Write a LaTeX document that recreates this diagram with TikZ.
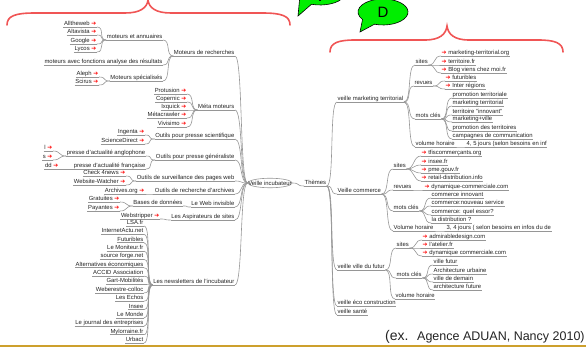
\documentclass[tikz,border=0pt]{standalone}
\usepackage{fontspec}
\setmainfont{Liberation Sans}
\newfontfamily\arrowfont{DejaVu Sans}
\usetikzlibrary{shapes.geometric}
\definecolor{bracered}{RGB}{240,85,85}
\definecolor{bubblegreen}{RGB}{0,238,0}
\definecolor{linkgray}{RGB}{150,150,150}
\definecolor{textgray}{RGB}{35,35,35}
\definecolor{footgold}{RGB}{205,160,45}
\newcommand{\linkarrow}{{\arrowfont\textcolor{red}{➔}}}
\tikzset{
    %Define standard look of the map
    >=stealth,
    leaf/.style={
      inner sep=0.5pt,
      text height=4.3pt, text depth=0.9pt,
      font=\fontsize{5.9}{6.5}\selectfont,
      text=textgray,
      append after command={(\tikzlastnode.south west) edge [uline] (\tikzlastnode.south east)}},
    lnode/.style={leaf, anchor=south east},
    rnode/.style={leaf, anchor=south west},
    uline/.style={draw=linkgray, line width=0.6pt},
    link/.style={
      draw=linkgray, line width=0.6pt,
      to path={.. controls +(8,0) and +(-8,0) .. (\tikztotarget)}},
    root/.style={
      ellipse,
      draw=linkgray, line width=0.6pt,
      inner xsep=-6pt, inner ysep=1.2pt,
      font=\fontsize{5.9}{6.5}\selectfont,
      text=textgray},
    brace/.style={draw=bracered, line width=1.6pt, line cap=round},
    bubble/.style={fill=bubblegreen, draw=black, line width=0.6pt},
}
\begin{document}
\begin{tikzpicture}[x=1pt, y=1pt]
    \useasboundingbox (0,0) rectangle (586,-347);
    \clip (0,0) rectangle (586,-347);

    % speech bubbles and braces
    \draw[bubble] (298,-16) -- ([shift={(320,7)}]250:25 and 12)
          arc[start angle=250, end angle=575, x radius=25, y radius=12] -- cycle;
    \node (lettv) at (320,4) {\fontsize{15}{15}\selectfont V};
    \draw[bubble] (360,-32) -- ([shift={(383,-12)}]250:25 and 13)
          arc[start angle=250, end angle=575, x radius=25, y radius=13] -- cycle;
    \node (lettd) at (383,-12) {\fontsize{15}{15}\selectfont D};
    \draw[brace] (7,-25) .. controls (7,-16) and (15,-13) .. (35,-13) -- (125,-13)
          .. controls (140,-13) and (147,-8) .. (148,0)
          .. controls (149,-8) and (156,-13) .. (171,-13) -- (262,-13)
          .. controls (282,-13) and (290,-16) .. (290,-25);
    \draw[brace] (330,-52) .. controls (330,-43) and (338,-40) .. (355,-40) -- (425,-40)
          .. controls (440,-40) and (446,-34) .. (447,-26)
          .. controls (448,-34) and (454,-40) .. (469,-40) -- (538,-40)
          .. controls (555,-40) and (563,-43) .. (563,-52);

    % centre
    \node (vi) [root] at (270,-183) {Veille incubateur};
    \node (thm) [rnode] at (304,-186) {Thèmes};

    % right side: themes
    \node (vmt) [rnode] at (337,-102) {veille marketing territorial};
    \node (vco) [rnode] at (337,-194) {Veille commerce};
    \node (vvf) [rnode] at (337,-270) {veille ville du futur};
    \node (veco) [rnode] at (337,-306) {veille éco construction};
    \node (vsan) [rnode] at (337,-315) {veille santé};

    \node (mtsites) [rnode] at (415,-65) {sites};
    \node (mtrev) [rnode] at (414,-86) {revues};
    \node (mtmots) [rnode] at (415,-119) {mots clés};
    \node (mtvol) [rnode] at (415,-147) {volume horaire};
    \node (mts1) [rnode] at (441,-56) {\linkarrow\ marketing-territorial.org};
    \node (mts2) [rnode] at (441,-65) {\linkarrow\ territoire.fr};
    \node (mts3) [rnode] at (441,-73) {\linkarrow\ Blog viens chez moi.fr};
    \node (mtr1) [rnode] at (445,-81) {\linkarrow\ futuribles};
    \node (mtr2) [rnode] at (445,-89) {\linkarrow\ Inter régions};
    \node (mtm1) [rnode] at (452,-98) {promotion territoriale};
    \node (mtm2) [rnode] at (452,-106) {marketing territorial};
    \node (mtm3) [rnode] at (452,-115) {territoire "innovant"};
    \node (mtm4) [rnode] at (452,-122) {marketing+ville};
    \node (mtm5) [rnode] at (452,-131) {promotion des territoires};
    \node (mtm6) [rnode] at (452,-139) {campagnes de communication};
    \node (mtv1) [rnode] at (466,-147) {4, 5 jours (selon besoins en inf};

    \node (cosites) [rnode] at (393,-169) {sites};
    \node (corev) [rnode] at (393,-190) {revues};
    \node (comots) [rnode] at (393,-211) {mots clés};
    \node (covol) [rnode] at (393,-231) {Volume horaire};
    \node (cos1) [rnode] at (421,-156) {\linkarrow\ tfiscommerçants.org};
    \node (cos2) [rnode] at (421,-165) {\linkarrow\ insee.fr};
    \node (cos3) [rnode] at (421,-173) {\linkarrow\ pme.gouv.fr};
    \node (cos4) [rnode] at (421,-181) {\linkarrow\ retail-distribution.info};
    \node (cor1) [rnode] at (424,-190) {\linkarrow\ dynamique-commerciale.com};
    \node (com1) [rnode] at (431,-198) {commerce innovant};
    \node (com2) [rnode] at (431,-206) {commerce:nouveau service};
    \node (com3) [rnode] at (431,-215) {commerce: quel essor?};
    \node (com4) [rnode] at (431,-223) {la distribution ?};
    \node (cov1) [rnode] at (446,-231) {3, 4 jours ( selon besoins en infos du de};

    \node (vfsites) [rnode] at (396,-248) {sites};
    \node (vfmots) [rnode] at (396,-278) {mots clés};
    \node (vfvol) [rnode] at (395,-299) {volume horaire};
    \node (vfs1) [rnode] at (422,-240) {\linkarrow\ admirabledesign.com};
    \node (vfs2) [rnode] at (422,-248) {\linkarrow\ l'atelier.fr};
    \node (vfs3) [rnode] at (422,-256) {\linkarrow\ dynamique commerciale.com};
    \node (vfm1) [rnode] at (433,-265) {ville futur};
    \node (vfm2) [rnode] at (433,-274) {Architecture urbaine};
    \node (vfm3) [rnode] at (433,-282) {ville de demain};
    \node (vfm4) [rnode] at (433,-290) {architecture future};

    % left side: tools
    \node (mr) [lnode] at (235,-56) {Moteurs de recherches};
    \node (mm) [lnode] at (235,-110) {Méta moteurs};
    \node (ops) [lnode] at (235,-139) {Outils pour presse scientifique};
    \node (opg) [lnode] at (235,-160) {Outils pour presse généraliste};
    \node (osw) [lnode] at (235,-181) {Outils de surveillance des pages web};
    \node (ora) [lnode] at (235,-194) {Outils de recherche d'archives};
    \node (lwi) [lnode] at (235,-207) {Le Web invisible};
    \node (las) [lnode] at (235,-220) {Les Aspirateurs de sites};
    \node (lnl) [lnode] at (235,-285) {Les newsletters de l'incubateur};

    \node (mea) [lnode] at (163,-40) {moteurs et annuaires};
    \node (mfa) [lnode] at (163,-65) {moteurs avec fonctions analyse des résultats};
    \node (msp) [lnode] at (163,-81) {Moteurs spécialisés};
    \node (mea1) [lnode] at (97,-27) {Alltheweb \linkarrow};
    \node (mea2) [lnode] at (97,-35) {Altavista \linkarrow};
    \node (mea3) [lnode] at (97,-44) {Google \linkarrow};
    \node (mea4) [lnode] at (97,-52) {Lycos \linkarrow};
    \node (msp1) [lnode] at (99,-77) {Aleph \linkarrow};
    \node (msp2) [lnode] at (99,-85) {Scirus \linkarrow};

    \node (mm1) [lnode] at (187,-94) {Protusion \linkarrow};
    \node (mm2) [lnode] at (187,-102) {Copernic \linkarrow};
    \node (mm3) [lnode] at (187,-110) {Ixquick \linkarrow};
    \node (mm4) [lnode] at (187,-118) {Métacrawler \linkarrow};
    \node (mm5) [lnode] at (187,-127) {Vivisimo \linkarrow};

    \node (ops1) [lnode] at (145,-135) {Ingenta \linkarrow};
    \node (ops2) [lnode] at (145,-144) {ScienceDirect \linkarrow};

    \node (pan) [lnode] at (146,-156) {presse d'actualité anglophone};
    \node (pfr) [lnode] at (146,-169) {presse d'actualité française};
    \node (pan1) [lnode] at (53,-151) {l \linkarrow};
    \node (pan2) [lnode] at (53,-160) {s \linkarrow};
    \node (pfr1) [lnode] at (59,-169) {dd \linkarrow};

    \node (osw1) [lnode] at (126,-176) {Check 4news \linkarrow};
    \node (osw2) [lnode] at (126,-185) {Website-Watcher \linkarrow};
    \node (ora1) [lnode] at (145,-194) {Archives.org \linkarrow};
    \node (bdd) [lnode] at (183,-206) {Bases de données};
    \node (bdd1) [lnode] at (120,-202) {Gratuites \linkarrow};
    \node (bdd2) [lnode] at (120,-211) {Payantes \linkarrow};
    \node (las1) [lnode] at (160,-219) {Webstripper \linkarrow};

    \node (nl1) [lnode] at (144,-226.0) {LSA.fr};
    \node (nl2) [lnode] at (144,-234.4) {InternetActu.net};
    \node (nl3) [lnode] at (144,-242.7) {Futuribles};
    \node (nl4) [lnode] at (144,-251.1) {Le Moniteur.fr};
    \node (nl5) [lnode] at (144,-259.4) {source forge.net};
    \node (nl6) [lnode] at (144,-267.8) {Alternatives économiques};
    \node (nl7) [lnode] at (144,-276.2) {ACCID Association};
    \node (nl8) [lnode] at (144,-284.5) {Gart-Mobilités};
    \node (nl9) [lnode] at (144,-292.9) {Weberestre-colloc};
    \node (nl10) [lnode] at (144,-301.2) {Les Echos};
    \node (nl11) [lnode] at (144,-309.6) {Insee};
    \node (nl12) [lnode] at (144,-318.0) {Le Monde};
    \node (nl13) [lnode] at (144,-326.3) {Le journal des entreprises};
    \node (nl14) [lnode] at (144,-334.7) {Mylorraine.fr};
    \node (nl15) [lnode] at (144,-343.0) {Urbact};

    % connectors, right side
    \path (vi.east) edge [link] (thm.south west)
          (thm.south east) edge [link] (vmt.south west)
                           edge [link] (vco.south west)
                           edge [link] (vvf.south west)
                           edge [link] (veco.south west)
                           edge [link] (vsan.south west)
          (vmt.south east) edge [link] (mtsites.south west)
                           edge [link] (mtrev.south west)
                           edge [link] (mtmots.south west)
                           edge [link] (mtvol.south west)
          (mtsites.south east) edge [link] (mts1.south west)
                               edge [link] (mts2.south west)
                               edge [link] (mts3.south west)
          (mtrev.south east) edge [link] (mtr1.south west)
                             edge [link] (mtr2.south west)
          (mtmots.south east) edge [link] (mtm1.south west)
                              edge [link] (mtm2.south west)
                              edge [link] (mtm3.south west)
                              edge [link] (mtm4.south west)
                              edge [link] (mtm5.south west)
                              edge [link] (mtm6.south west)
          (mtvol.south east) edge [link] (mtv1.south west)
          (vco.south east) edge [link] (cosites.south west)
                           edge [link] (corev.south west)
                           edge [link] (comots.south west)
                           edge [link] (covol.south west)
          (cosites.south east) edge [link] (cos1.south west)
                               edge [link] (cos2.south west)
                               edge [link] (cos3.south west)
                               edge [link] (cos4.south west)
          (corev.south east) edge [link] (cor1.south west)
          (comots.south east) edge [link] (com1.south west)
                              edge [link] (com2.south west)
                              edge [link] (com3.south west)
                              edge [link] (com4.south west)
          (covol.south east) edge [link] (cov1.south west)
          (vvf.south east) edge [link] (vfsites.south west)
                           edge [link] (vfmots.south west)
                           edge [link] (vfvol.south west)
          (vfsites.south east) edge [link] (vfs1.south west)
                               edge [link] (vfs2.south west)
                               edge [link] (vfs3.south west)
          (vfmots.south east) edge [link] (vfm1.south west)
                              edge [link] (vfm2.south west)
                              edge [link] (vfm3.south west)
                              edge [link] (vfm4.south west);

    % connectors, left side
    \path (mr.south east) edge [link] (vi.west)
          (mm.south east) edge [link] (vi.west)
          (ops.south east) edge [link] (vi.west)
          (opg.south east) edge [link] (vi.west)
          (osw.south east) edge [link] (vi.west)
          (ora.south east) edge [link] (vi.west)
          (lwi.south east) edge [link] (vi.west)
          (las.south east) edge [link] (vi.west)
          (lnl.south east) edge [link] (vi.west)
          (mea.south east) edge [link] (mr.south west)
          (mfa.south east) edge [link] (mr.south west)
          (msp.south east) edge [link] (mr.south west)
          (mea1.south east) edge [link] (mea.south west)
          (mea2.south east) edge [link] (mea.south west)
          (mea3.south east) edge [link] (mea.south west)
          (mea4.south east) edge [link] (mea.south west)
          (msp1.south east) edge [link] (msp.south west)
          (msp2.south east) edge [link] (msp.south west)
          (mm1.south east) edge [link] (mm.south west)
          (mm2.south east) edge [link] (mm.south west)
          (mm3.south east) edge [link] (mm.south west)
          (mm4.south east) edge [link] (mm.south west)
          (mm5.south east) edge [link] (mm.south west)
          (ops1.south east) edge [link] (ops.south west)
          (ops2.south east) edge [link] (ops.south west)
          (pan.south east) edge [link] (opg.south west)
          (pfr.south east) edge [link] (opg.south west)
          (pan1.south east) edge [link] (pan.south west)
          (pan2.south east) edge [link] (pan.south west)
          (pfr1.south east) edge [link] (pfr.south west)
          (osw1.south east) edge [link] (osw.south west)
          (osw2.south east) edge [link] (osw.south west)
          (ora1.south east) edge [link] (ora.south west)
          (bdd.south east) edge [link] (lwi.south west)
          (bdd1.south east) edge [link] (bdd.south west)
          (bdd2.south east) edge [link] (bdd.south west)
          (las1.south east) edge [link] (las.south west)
          (nl1.south east) edge [link] (lnl.south west)
          (nl2.south east) edge [link] (lnl.south west)
          (nl3.south east) edge [link] (lnl.south west)
          (nl4.south east) edge [link] (lnl.south west)
          (nl5.south east) edge [link] (lnl.south west)
          (nl6.south east) edge [link] (lnl.south west)
          (nl7.south east) edge [link] (lnl.south west)
          (nl8.south east) edge [link] (lnl.south west)
          (nl9.south east) edge [link] (lnl.south west)
          (nl10.south east) edge [link] (lnl.south west)
          (nl11.south east) edge [link] (lnl.south west)
          (nl12.south east) edge [link] (lnl.south west)
          (nl13.south east) edge [link] (lnl.south west)
          (nl14.south east) edge [link] (lnl.south west)
          (nl15.south east) edge [link] (lnl.south west);

    % source line and footer rule
    \node (exa) [anchor=base west, inner sep=0pt, text=textgray] at (385,-340)
          {\fontsize{14}{14}\selectfont (ex.};
    \node (src) [anchor=base west, inner sep=0pt, text=textgray] at (417,-340)
          {\fontsize{12.5}{12.5}\selectfont Agence ADUAN, Nancy 2010)};
    \draw[draw=footgold, line width=2pt] (0,-345.5) -- (586,-345.5);
\end{tikzpicture}
\end{document}
